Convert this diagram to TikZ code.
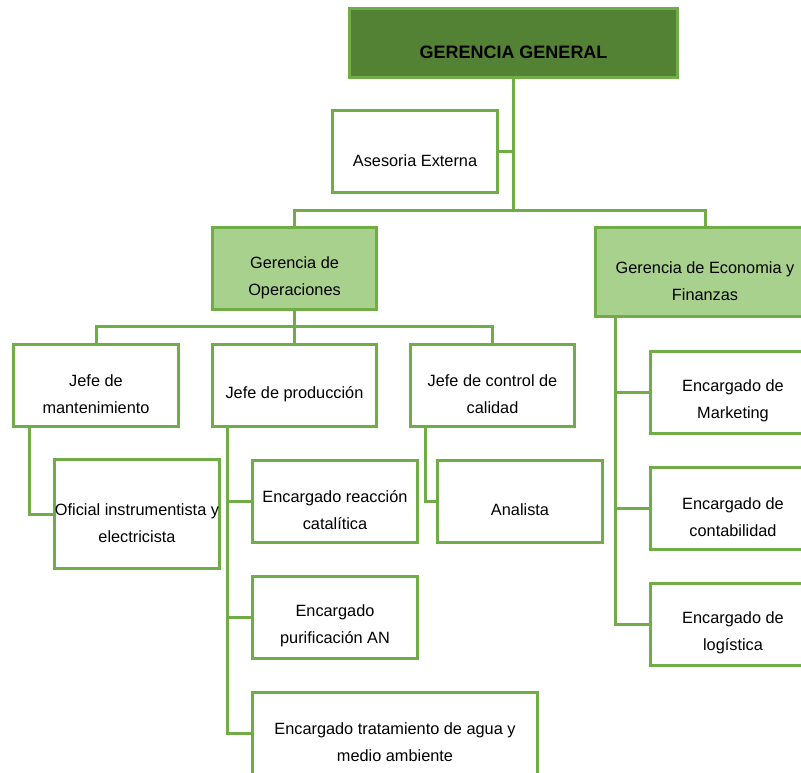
\documentclass[tikz,border=0pt]{standalone}
\usepackage{fontspec}
\setmainfont{Liberation Sans}
\usetikzlibrary{calc}
\definecolor{verdeosc}{HTML}{548235}
\definecolor{verdecla}{HTML}{A9D18E}
\definecolor{verdelin}{HTML}{70AD47}
\begin{document}
\begin{tikzpicture}[x=0.025cm,y=-0.025cm,
        txt/.style={align=center,inner sep=0pt,yshift=-0.22cm,
            font=\fontsize{11.6pt}{19.2pt}\selectfont},
        box/.style={draw=verdelin,line width=0.075cm,fill=white,
            minimum width=4.1cm,minimum height=2.05cm,
            label={[txt]center:{#1}}},
        gbox/.style={box={#1},fill=verdecla},
        link/.style={draw=verdelin,line width=0.075cm}]
                \useasboundingbox (0,0) rectangle (801,772);
                \clip (0,0) rectangle (801,772);
                % cabeza
                \node[box={\bfseries\fontsize{12.8pt}{15pt}\selectfont GERENCIA GENERAL},
                    fill=verdeosc,minimum width=8.175cm,minimum height=1.7cm] (gg) at (513.5,43) {};
                \node[box={Asesoria Externa}] (ase) at (415,151.5) {};
                \node[gbox={Gerencia de\\Operaciones}] (gop) at (294.5,268.5) {};
                \node[gbox={Gerencia de Economia y\\Finanzas},minimum width=5.45cm,minimum height=2.2cm] (gef) at (705,272) {};
                % jefaturas
                \node[box={Jefe de\\mantenimiento}] (jm) at (96,385) {};
                \node[box={Jefe de producción}] (jp) at (294.5,385) {};
                \node[box={Jefe de control de\\calidad}] (jc) at (492.5,385) {};
                \node[box={Oficial instrumentista y\\electricista},minimum height=2.7cm] (of) at (137,514) {};
                \node[box={Encargado reacción\\catalítica}] (erc) at (335,501) {};
                \node[box={Encargado\\purificación AN}] (epu) at (335,617) {};
                \node[box={Encargado tratamiento de agua y\\medio ambiente},minimum width=7.1cm] (eta) at (395,733) {};
                \node[box={Analista}] (ana) at (520,501) {};
                \node[box={Encargado de\\Marketing}] (emk) at (733,392) {};
                \node[box={Encargado de\\contabilidad}] (eco) at (733,508) {};
                \node[box={Encargado de\\logística}] (elo) at (733,624) {};
                % lineas
                \coordinate (bus) at (513.5,210);
                \coordinate (obus) at (294.5,326);
                \draw[link] (gg.south) -- (bus);
                \draw[link] (ase.east) -- (ase.east -| gg.south);
                \draw[link] (gop.north) |- (bus) -| (gef.north);
                \draw[link] (gop.south) -- (jp.north);
                \draw[link] (jm.north) |- (obus) -| (jc.north);
                \draw[link] ($(jm.south west)+(17,0)$) |- (of.west);
                \draw[link] ($(jc.south west)+(17,0)$) |- (ana.west);
                \coordinate (jpx) at ($(jp.south west)+(17,0)$);
                \draw[link] (jpx) |- (eta.west);
                \foreach \n in {erc,epu}{
                    \draw[link] (jpx |- \n.west) -- (\n.west);
                }
                \coordinate (gfx) at ($(gef.south west)+(21,0)$);
                \draw[link] (gfx) |- (elo.west);
                \foreach \n in {emk,eco}{
                    \draw[link] (gfx |- \n.west) -- (\n.west);
                }
            \end{tikzpicture}
\end{document}
